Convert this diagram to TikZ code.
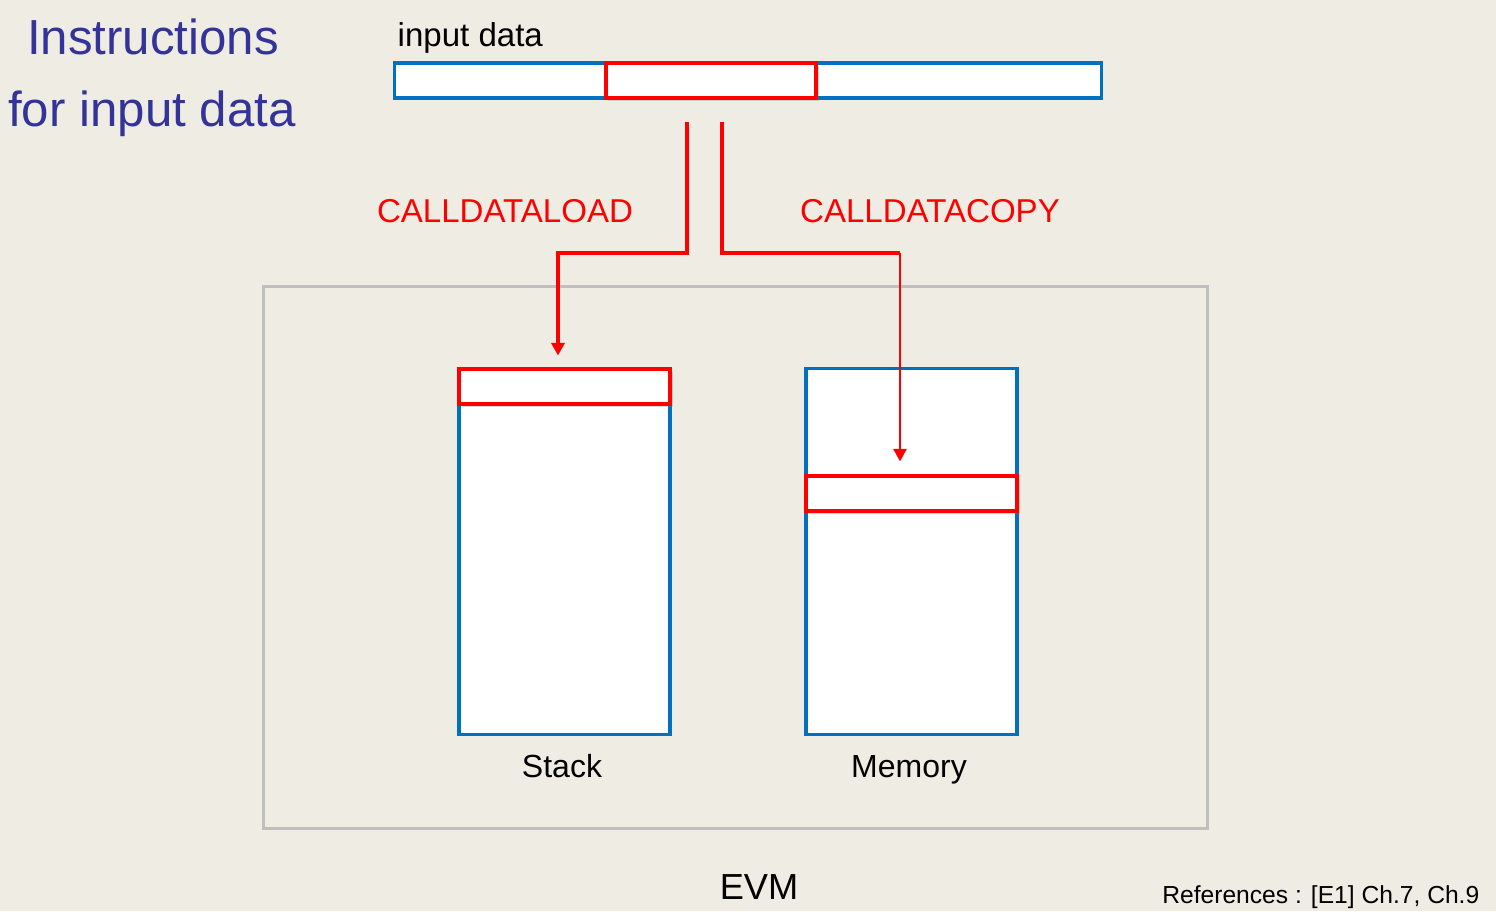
\documentclass[tikz,border=0pt]{standalone}
\usepackage{fontspec}
\setmainfont{Liberation Sans}
\usetikzlibrary{arrows.meta, shadows}

\definecolor{bgcol}{HTML}{EFECE4}
\definecolor{titlecol}{HTML}{333399}
\definecolor{boxblue}{HTML}{0070C0}
\definecolor{evmgray}{HTML}{BFBFBF}

\tikzset{
  cellbox/.style={draw=boxblue, line width=0.9pt, fill=white, inner sep=0pt, minimum width=2.11cm},
  hilite/.style={draw=red, line width=0.9pt, fill=white, inner sep=0pt, minimum height=0.35cm,
    drop shadow={shadow xshift=0.7pt, shadow yshift=-0.9pt, opacity=0.3}},
  feed/.style={draw=red, line width=0.9pt},
  tip/.style={-{Triangle[length=3.6pt, width=3.8pt]}},
}

\begin{document}
\begin{tikzpicture}[x=0.01cm, y=-0.01cm]
        % Background
        \useasboundingbox (0,0) rectangle (1496,911);
        \fill[bgcol] (0,0) rectangle (1496,911);
        % Title
        \node[titlecol, anchor=base, font=\fontsize{14}{17}\selectfont] (titleA) at (153,54) {Instructions};
        \node[titlecol, anchor=base, font=\fontsize{14}{17}\selectfont] (titleB) at (152,126) {for input data};
        % Input data bar
        \node[anchor=base west, font=\fontsize{9.4}{11}\selectfont, inner sep=0pt] (inlabel) at (397,46) {input data};
        \node[cellbox, minimum width=7.06cm, minimum height=0.35cm] (inbar) at (748,80.5) {};
        \node[hilite, minimum width=2.10cm] (inpart) at (711,80.5) {};
        % EVM frame
        \node[draw=evmgray, line width=0.9pt, minimum width=9.43cm, minimum height=5.41cm, inner sep=0pt] (evm) at (735.5,557.5) {};
        \node[anchor=base, font=\fontsize{10.3}{12}\selectfont] (evmlabel) at (759,899) {EVM};
        % Stack and Memory
        \node[cellbox, minimum height=3.65cm] (stack) at (564.5,551.5) {};
        \node[hilite, minimum width=2.11cm] (stacktop) at (564.5,386.5) {};
        \node[anchor=base, font=\fontsize{9.1}{11}\selectfont] (stacklabel) at (562,777) {Stack};
        \node[cellbox, minimum height=3.65cm] (memory) at (911.5,551.5) {};
        \node[hilite, minimum width=2.11cm] (memcell) at (911.5,493.5) {};
        \node[anchor=base, font=\fontsize{9.1}{11}\selectfont] (memlabel) at (909,777) {Memory};
        % Instruction paths
        \coordinate (loadsrc) at (687,122);
        \coordinate (loadbend) at (558,253);
        \coordinate (copysrc) at (722,122);
        \coordinate (copybend) at (900,253);
        \draw[feed, tip, shorten >=0.12cm] (loadsrc) |- (loadbend) -- (loadbend |- stacktop.north);
        \draw[feed] (copysrc) |- (copybend);
        \draw[red, line width=0.55pt, tip, shorten >=0.13cm] (copybend) -- (copybend |- memcell.north);
        \node[red, anchor=base, font=\fontsize{9.4}{11}\selectfont] (loadlabel) at (505,222) {CALLDATALOAD};
        \node[red, anchor=base, font=\fontsize{9.4}{11}\selectfont] (copylabel) at (930,222) {CALLDATACOPY};
        % References
        \node[anchor=base east, inner sep=0pt, font=\fontsize{7}{9}\selectfont] (refs) at (1480,903) {References : [E1] Ch.7, Ch.9};
    \end{tikzpicture}
\end{document}
